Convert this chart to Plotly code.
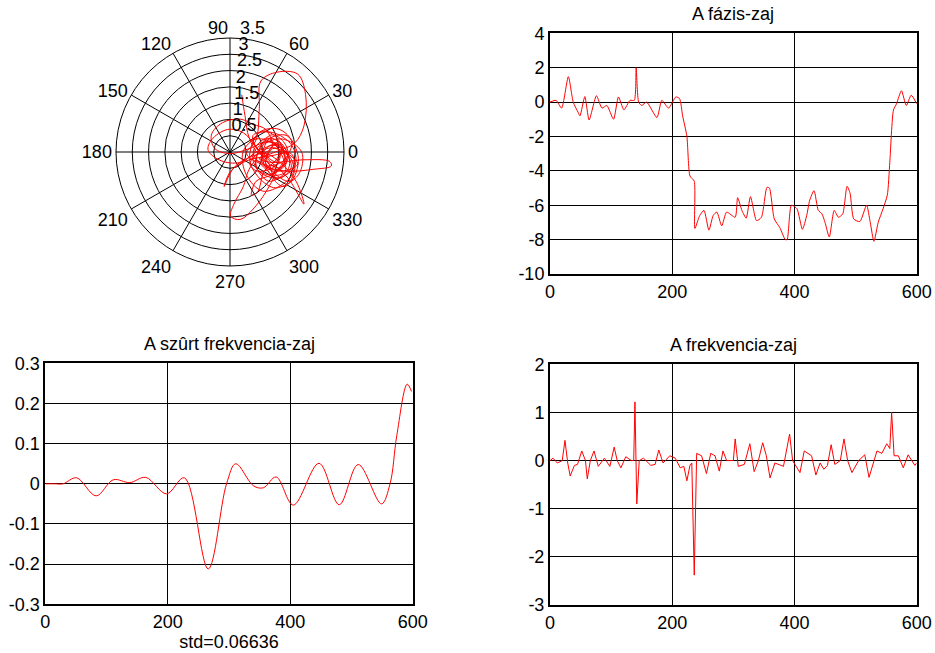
import numpy as np
import plotly.graph_objects as go

# ---------------- data ----------------
# complex noise samples (I / Q) for the polar plot
iq_re = [0.36, 0.46, 0.59, 0.90, 1.29, 1.10, 0.71, 0.31, -0.23, -0.57, -0.47, 0.00, 0.61, 1.20, 1.78,
         2.08, 1.59, 0.95, 0.51, 0.80, 0.90, 0.95, 1.44, 2.08, 2.32, 2.27, 1.98, 1.39, 0.90, 1.29,
         2.27, 3.06, 3.11, 2.57, 1.78, 1.20, 0.80, 0.56, 0.41, 0.12, 0.02, 0.31, 0.80, 1.20, 1.44,
         1.69, 1.39, 1.00, 0.71, 1.10, 1.78, 2.27, 2.03, 1.59, 1.10, 0.61, 0.12, -0.18, 0.02, 0.51,
         1.29, 1.88, 1.98, 1.69, 1.39, 1.20, 0.80, 0.41, -0.08, -0.57, -0.67, -0.27, 0.31, 0.90, 1.49,
         1.69, 1.29, 0.80, 0.66, 0.85, 1.05, 1.39, 1.59, 1.25, 0.95, 1.20,
         1.10, 1.49, 1.78, 1.34, 0.95, 1.25, 1.64, 1.88, 1.49, 1.05, 0.71, 1.15, 1.54, 1.39, 0.85,
         0.61, 1.00, 1.44, 1.74, 1.20, 0.80, 0.95, 1.29, 1.64, 1.78, 1.54, 1.15,
         0.70, 1.30, 1.90, 2.00, 1.50, 0.90, 0.70, 1.10, 1.70, 1.80, 1.20, 0.80, 1.00, 1.60, 2.20,
         2.10, 1.40, 0.90, 0.60, 0.90, 1.50, 1.90, 1.60, 1.10, 1.30, 1.80, 1.95, 1.60, 1.00, 0.50,
         0.40, 0.80, 1.40, 1.70, 1.30, 1.00, 1.20, 1.75, 2.10, 1.85, 1.25, 0.95, 1.40, 1.60]
iq_im = [1.76, 1.12, 0.43, -0.05, 0.16, 0.69, 0.85, 1.01, 0.90, 0.53, 0.11, -0.05, 0.11, 0.32, -0.05,
         -0.37, -0.59, -0.37, -0.05, 0.37, 1.33, 2.18, 2.45, 2.39, 1.76, 0.80, 0.27, 0.00, -0.21, -0.32,
         -0.24, -0.29, -0.43, -0.53, -0.59, -0.48, -0.27, -0.59, -1.06, -1.60, -1.97, -2.07, -1.65, -1.06, -0.59,
         -0.16, 0.48, 0.64, 0.32, -0.16, -0.80, -1.60, -0.90, -0.37, -0.05, -0.16, -0.48, -1.06, -0.59, -0.27,
         -0.11, -0.05, -0.59, -1.06, -0.90, -0.37, 0.16, 0.59, 0.69, 0.37, 0.05, -0.27, -0.32, 0.05, 0.21,
         -0.27, -0.69, -0.90, -1.33, -1.22, -0.59, -0.27, 0.16, 0.43, 0.16, -0.16,
         -0.16, 0.32, -0.21, -0.59, -0.21, 0.21, 0.05, -0.48, -0.80, -0.48, 0.00, 0.43, -0.05, -0.43, -0.59,
         -0.37, 0.05, 0.11, -0.32, -0.69, -0.48, 0.21, 0.53, 0.32, -0.05, -0.48, -0.32,
         0.50, 0.60, 0.20, -0.40, -0.80, -0.60, -0.10, 0.30, 0.10, -0.50, -0.90, -0.40, 0.20, 0.40, 0.00,
         -0.70, -1.10, -0.80, -0.20, 0.60, 0.70, 0.30, -0.30, -0.40, 0.10, -0.10, -0.60, -1.00, -1.20, -0.70,
         0.00, 0.40, 0.20, -0.60, -0.70, -0.20, 0.40, 0.50, -0.20, -0.90, -0.55, 0.00, -0.30, 0.10]

# polar grid labels
radial_ticks = [0.5, 1, 1.5, 2, 2.5, 3, 3.5]
radial_labels = ["0.5", "1", "1.5", "2", "2.5", "3", "3.5"]
angle_ticks = [0, 30, 60, 90, 120, 150, 180, 210, 240, 270, 300, 330]
angle_labels = ["0", "30", "60", "", "120", "150", "180", "210", "240", "270", "300", "330"]
top_label = "90"

# A fázis-zaj
phase_x = [0, 10, 19, 30, 38, 46, 49, 57, 64, 76, 85, 93, 104, 112, 121, 131, 138, 141, 145, 150,
           158, 175, 183, 194, 206, 212, 217, 224, 229, 236, 237, 245, 252, 260, 267, 273, 281, 289,
           303, 307, 314, 321, 328, 338, 346, 355, 359, 367, 376, 385, 388, 395, 404, 413, 420, 425,
           432, 439, 445, 450, 457, 465, 472, 479, 486, 491, 497, 507, 518, 524, 530, 537, 545, 552,
           556, 562, 567, 575, 583, 591, 600]
phase_y = [0.0, 0.1, -0.35, 1.48, 0.0, -0.6, -0.8, 0.32, -1.04, 0.37, -0.35, -0.2, -1.0, 0.3, -0.45,
           0.1, 0.1, 2.0, 0.0, -0.2, 0.0, -0.9, 0.1, -0.35, 0.3, 0.2, -0.8, -2.0, -4.3, -4.6, -7.35,
           -6.6, -6.3, -7.45, -6.6, -6.4, -7.2, -6.4, -6.7, -5.56, -6.3, -6.75, -5.5, -6.9, -6.7, -4.96,
           -5.0, -6.8, -7.3, -8.0, -8.0, -6.0, -6.2, -7.4, -6.6, -5.7, -5.15, -6.3, -6.5, -7.0, -7.85,
           -6.3, -6.7, -6.5, -4.9, -5.3, -6.8, -6.95, -6.0, -7.0, -8.1, -7.0, -6.2, -5.4, -3.5, -0.46,
           -0.1, 0.66, -0.2, 0.4, -0.1]
phase_ticks = [-10, -8, -6, -4, -2, 0, 2, 4]

# A szûrt frekvencia-zaj
filt_x = [0, 15, 29, 51, 83, 111, 138, 164, 198, 227, 266, 296, 311, 340, 356, 377, 405, 447, 480,
          511, 549, 563, 574, 591, 598]
filt_y = [0.0, 0.0, 0.0, 0.015, -0.030, 0.010, 0.003, 0.016, -0.025, 0.015, -0.212, 0.0, 0.050,
          -0.005, -0.010, 0.017, -0.053, 0.051, -0.052, 0.048, -0.050, 0.0, 0.12, 0.248, 0.23]
filt_std = 0.06636
filt_ticks = [-0.3, -0.2, -0.1, 0, 0.1, 0.2, 0.3]

# A frekvencia-zaj
freq_x = [0, 5, 12, 20, 24.5, 29, 33, 40, 45, 52, 58, 61, 66, 72, 79, 89, 98, 105, 110, 116, 124,
          133, 137, 139, 142, 146, 153, 165, 172, 178, 185, 196, 205, 213, 219, 224, 229, 232, 236,
          240, 248, 256, 263, 270, 277, 283, 289, 300, 303, 308, 318, 327, 334, 341, 348, 354, 360,
          368, 382, 392, 397, 409, 416, 428, 435, 442, 448, 454, 460, 466, 475, 481, 487, 494, 505,
          515, 522, 530, 535, 543, 551, 556, 559, 563, 570, 578, 586, 597, 600]
freq_y = [0.0, 0.05, -0.05, 0.0, 0.42, -0.05, -0.32, -0.1, -0.08, 0.2, 0.0, -0.38, 0.0, 0.2, -0.12,
          0.05, -0.12, 0.28, 0.0, -0.15, 0.08, 0.0, 0.0, 1.22, -0.9, 0.0, 0.05, -0.1, -0.08, 0.22,
          -0.05, 0.1, 0.05, -0.15, -0.12, -0.42, -0.1, -0.05, -2.38, 0.15, 0.1, -0.27, 0.15, 0.1,
          -0.22, 0.2, 0.0, 0.0, 0.45, -0.12, -0.08, 0.35, -0.23, 0.0, 0.37, 0.1, -0.36, -0.05, -0.12,
          0.55, 0.0, -0.25, 0.2, 0.1, -0.3, -0.05, -0.18, -0.1, 0.33, -0.08, 0.0, 0.45, 0.0, -0.25,
          0.0, 0.12, -0.35, 0.0, 0.2, 0.15, 0.35, 0.25, 1.0, 0.1, 0.1, -0.15, 0.12, -0.1, -0.05]
freq_ticks = [-3, -2, -1, 0, 1, 2]

x_ticks = [0, 200, 400, 600]

# ---------------- figure ----------------
FONT = "Liberation Sans, Arial, sans-serif"
FS = 18
TF = dict(family=FONT, size=FS, color="black")
W, H = 935, 653
iq = np.array(iq_re) + 1j * np.array(iq_im)
r = np.abs(iq)
th = np.degrees(np.angle(iq))


def lab(v):
    return "%g" % v  # plain hyphen-minus, as in the original


fig = go.Figure()
fig.add_trace(go.Scatterpolar(r=r, theta=th, mode="lines", subplot="polar",
                              line=dict(color="red", width=1, shape="spline", smoothing=1.0),
                              showlegend=False, hoverinfo="skip"))
fig.add_trace(go.Scatterpolar(r=radial_ticks, theta=[85] * len(radial_ticks), mode="text",
                              text=radial_labels, textposition="top right", textfont=TF,
                              subplot="polar", showlegend=False, hoverinfo="skip",
                              cliponaxis=False))
fig.add_trace(go.Scatterpolar(r=[radial_ticks[-1]], theta=[91], mode="text",
                              text=[top_label], textposition="top left", textfont=TF,
                              subplot="polar", showlegend=False, hoverinfo="skip",
                              cliponaxis=False))
fig.add_trace(go.Scatter(x=phase_x, y=phase_y, mode="lines", xaxis="x", yaxis="y",
                         line=dict(color="red", width=1, shape="spline", smoothing=0.6),
                         showlegend=False))
fig.add_trace(go.Scatter(x=filt_x, y=filt_y, mode="lines", xaxis="x2", yaxis="y2",
                         line=dict(color="red", width=1, shape="spline", smoothing=1.0),
                         showlegend=False))
fig.add_trace(go.Scatter(x=freq_x, y=freq_y, mode="lines", xaxis="x3", yaxis="y3",
                         line=dict(color="red", width=1),
                         showlegend=False))


def xax(domain, anchor, title=None):
    d = dict(domain=domain, anchor=anchor, range=[0, 600], tickvals=x_ticks,
             ticktext=[lab(v) for v in x_ticks], automargin=False,
             showgrid=True, gridcolor="black", gridwidth=1, showline=True, mirror=True,
             linecolor="black", linewidth=2, zeroline=False, ticks="", tickfont=TF)
    if title:
        d["title"] = dict(text=title, font=TF, standoff=0)
    return d


def yax(domain, anchor, ticks):
    return dict(domain=domain, anchor=anchor, range=[ticks[0], ticks[-1]], tickvals=ticks,
                ticktext=[lab(v) for v in ticks], automargin=False,
                showgrid=True, gridcolor="black", gridwidth=1, showline=True, mirror=True,
                linecolor="black", linewidth=2, zeroline=False, ticks="", tickfont=TF)


def px_x(a, b):
    return [a / W, b / W]


def px_y(top, bottom):
    return [1 - bottom / H, 1 - top / H]


xr = px_x(550, 916.7)
xl = px_x(45.3, 412.7)
fig.update_layout(
    width=W, height=H, margin=dict(l=0, r=0, t=0, b=0, autoexpand=False),
    paper_bgcolor="white", plot_bgcolor="white",
    font=TF,
    xaxis=xax(xr, "y"),
    yaxis=yax(px_y(33.3, 274), "x", phase_ticks),
    xaxis2=xax(xl, "y2", title="std=" + ("%.4g" % filt_std)),
    yaxis2=yax(px_y(363.3, 604.3), "x2", filt_ticks),
    xaxis3=xax(xr, "y3"),
    yaxis3=yax(px_y(364.3, 605), "x3", freq_ticks),
    polar=dict(
        domain=dict(x=px_x(114, 346), y=px_y(38, 266)),
        bgcolor="white",
        radialaxis=dict(range=[0, 3.5], tickvals=radial_ticks, showticklabels=False,
                        angle=90, showline=False, ticks="",
                        gridcolor="black", gridwidth=1),
        angularaxis=dict(tickvals=angle_ticks, ticktext=angle_labels,
                         direction="counterclockwise",
                         rotation=0, showline=True, linecolor="black", linewidth=1,
                         gridcolor="black", gridwidth=1, ticks="", tickfont=TF),
    ),
)

titles = [("A fázis-zaj", (xr[0] + xr[1]) / 2, 1 - 14 / H),
          ("A szûrt frekvencia-zaj", (xl[0] + xl[1]) / 2, 1 - 344 / H),
          ("A frekvencia-zaj", (xr[0] + xr[1]) / 2, 1 - 345 / H)]
for txt, x, y in titles:
    fig.add_annotation(text=txt, x=x, y=y, xref="paper", yref="paper", showarrow=False,
                       xanchor="center", yanchor="middle", font=TF)

fig.write_html("out.html", config={"displayModeBar": False},
               post_script="document.body.style.margin='0';document.body.style.overflow='hidden';")
